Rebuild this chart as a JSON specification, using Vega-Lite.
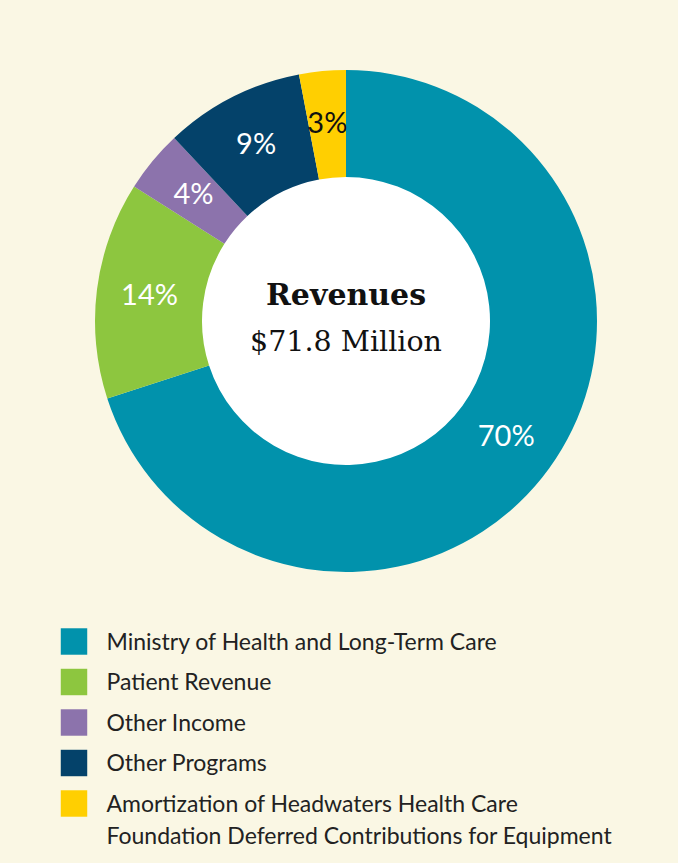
{
  "$schema": "https://vega.github.io/schema/vega-lite/v6.json",
  "width": 664,
  "height": 642,
  "autosize": {"type": "none"},
  "padding": {"left": 14, "top": 0, "right": 0, "bottom": 221},
  "background": "#faf7e4",
  "config": {"view": {"stroke": null}},
  "resolve": {"scale": {"theta": "independent"}},
  "data": {
    "values": [
      {"category": "Ministry of Health and Long-Term Care", "pct": 70, "label": "70%", "rank": 1},
      {"category": "Patient Revenue", "pct": 14, "label": "14%", "rank": 2},
      {"category": "Other Income", "pct": 4, "label": "4%", "rank": 3},
      {"category": "Other Programs", "pct": 9, "label": "9%", "rank": 4},
      {"category": "Amortization of Headwaters Health Care Foundation Deferred Contributions for Equipment", "pct": 3, "label": "3%", "rank": 5}
    ]
  },
  "layer": [
    {
      "data": {"values": [{"v": 1}]},
      "mark": {"type": "arc", "innerRadius": 0, "outerRadius": 145, "fill": "#ffffff", "strokeWidth": 0},
      "encoding": {
        "theta": {"field": "v", "type": "quantitative", "stack": true}
      }
    },
    {
      "mark": {"type": "arc", "innerRadius": 144, "outerRadius": 251, "strokeWidth": 0},
      "encoding": {
        "theta": {"field": "pct", "type": "quantitative", "stack": true},
        "order": {"field": "rank", "type": "quantitative"},
        "color": {
          "field": "category",
          "type": "nominal",
          "sort": ["Ministry of Health and Long-Term Care", "Patient Revenue", "Other Income", "Other Programs", "Amortization of Headwaters Health Care Foundation Deferred Contributions for Equipment"],
          "scale": {
            "domain": ["Ministry of Health and Long-Term Care", "Patient Revenue", "Other Income", "Other Programs", "Amortization of Headwaters Health Care Foundation Deferred Contributions for Equipment"],
            "range": ["#0192ac", "#8dc63f", "#8c73ac", "#04426a", "#ffcf01"]
          },
          "legend": {
            "orient": "none",
            "legendX": 46.5,
            "legendY": 628,
            "title": null,
            "padding": 0,
            "symbolType": "square",
            "symbolSize": 700,
            "symbolStrokeWidth": 0,
            "symbolOpacity": 1,
            "labelFont": "Lato",
            "labelFontSize": 23,
            "labelColor": "#222222",
            "labelOffset": 19,
            "labelLimit": 800,
            "rowPadding": 13.5,
            "labelBaseline": "alphabetic",
            "labelExpr": "datum.label == 'Amortization of Headwaters Health Care Foundation Deferred Contributions for Equipment' ? ['Amortization of Headwaters Health Care', 'Foundation Deferred Contributions for Equipment'] : datum.label",
            "encoding": {
              "labels": {
                "dy": {"value": 8.3},
                "lineHeight": {"value": 32}
              }
            }
          }
        }
      }
    },
    {
      "mark": {"type": "text", "radius": 198, "font": "Lato", "fontSize": 29, "baseline": "middle", "align": "center"},
      "encoding": {
        "theta": {"field": "pct", "type": "quantitative", "stack": true},
        "order": {"field": "rank", "type": "quantitative"},
        "detail": {"field": "category", "type": "nominal"},
        "text": {"field": "label"},
        "color": {"condition": {"test": "datum.pct == 3", "value": "#111111"}, "value": "#ffffff"}
      }
    },
    {
      "data": {"values": [{"title": "Revenues", "sub": "$71.8 Million"}]},
      "mark": {"type": "text", "font": "DejaVu Serif", "fontWeight": "bold", "fontSize": 30, "dy": -25, "color": "#111111", "baseline": "middle"},
      "encoding": {"text": {"field": "title"}}
    },
    {
      "data": {"values": [{"title": "Revenues", "sub": "$71.8 Million"}]},
      "mark": {"type": "text", "font": "DejaVu Serif", "fontSize": 28.5, "dy": 21, "color": "#111111", "baseline": "middle"},
      "encoding": {"text": {"field": "sub"}}
    }
  ]
}
